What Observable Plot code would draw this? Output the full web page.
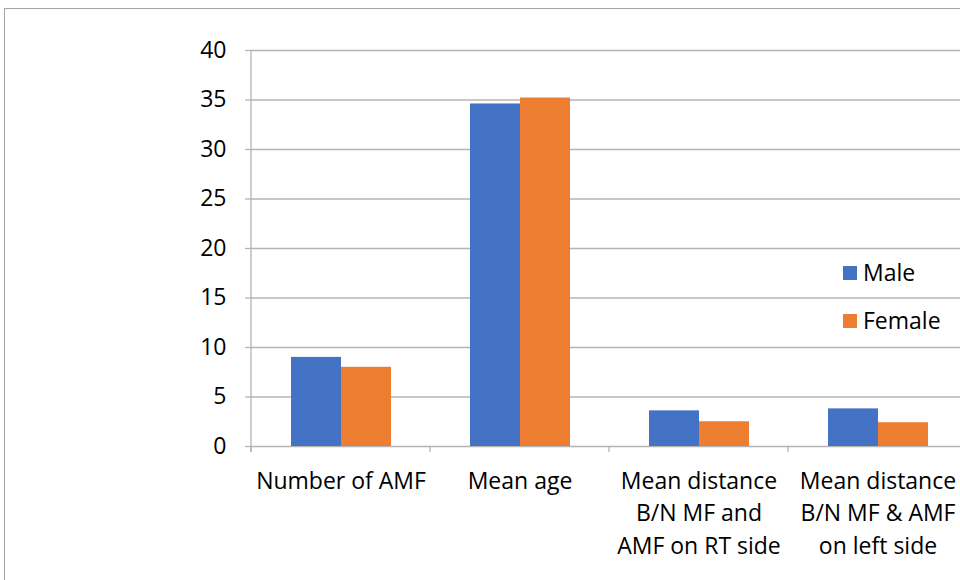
<!DOCTYPE html>
<html>
<head>
<meta charset="utf-8">
<script src="https://cdn.jsdelivr.net/npm/d3@7"></script>
<script src="https://cdn.jsdelivr.net/npm/@observablehq/plot@0.6"></script>
<style>
  html, body { margin: 0; padding: 0; background: #fff; overflow: hidden; width: 960px; height: 580px; }
  #wrap { position: relative; width: 960px; height: 580px; overflow: hidden; }
  #frame { position: absolute; left: 4px; top: 8px; width: 1000px; height: 600px; border: 1px solid #a6a6a6; box-sizing: border-box; pointer-events: none; }
  #chart { position: absolute; left: 0; top: 0; width: 968px; }
  .legend { position: absolute; left: 843px; font-family: "Open Sans", sans-serif; font-size: 23px; color: #000; display: flex; align-items: center; line-height: 1; }
  .legend .sw { width: 14px; height: 14px; margin-right: 6px; }
</style>
</head>
<body>
<div id="wrap">
  <div id="chart"></div>
  <div id="frame"></div>
</div>
<script>
const categories = ["Number of AMF", "Mean age", "Mean distance\nB/N MF and\nAMF on RT side", "Mean distance\nB/N MF & AMF\non left side"];
const series = ["Male", "Female"];
const maleValues = [9, 34.6, 3.6, 3.8];
const femaleValues = [8, 35.2, 2.5, 2.4];
const yTicks = [0, 5, 10, 15, 20, 25, 30, 35, 40];
const colors = ["#4472C4", "#ED7D31"];

const data = [];
categories.forEach((c, i) => {
  data.push({category: c, sex: "Male", value: maleValues[i]});
  data.push({category: c, sex: "Female", value: femaleValues[i]});
});

const gridColor = "#b4b4b4";

const plot = Plot.plot({
  width: 968,
  height: 580,
  marginLeft: 249,
  marginRight: 0,
  marginTop: 50,
  marginBottom: 134,
  style: {fontFamily: "'Open Sans', sans-serif", fontSize: "23px", color: "#000", background: "transparent", maxWidth: "none"},
  fx: {domain: categories, padding: 0, label: null},
  x: {domain: series, paddingInner: 0, paddingOuter: 0.76, axis: null},
  y: {domain: [0, 40], label: null},
  color: {domain: series, range: colors},
  marks: [
    Plot.gridY(yTicks, {stroke: gridColor, strokeOpacity: 1, strokeWidth: 1.3}),
    Plot.barY(data, {fx: "category", x: "sex", y: "value", fill: "sex"}),
    Plot.axisY(yTicks, {tickSize: 6, tickPadding: 19, stroke: gridColor, strokeWidth: 1.3, label: null, fontSize: 23}),
    Plot.axisFx({anchor: "bottom", tickSize: 0, tickPadding: 19, lineHeight: 1.42, label: null, fontSize: 23})
  ]
});

document.getElementById("chart").appendChild(plot);

// Category boundary ticks and y-axis line from the plot's own scales
const fx = plot.scale("fx");
const y = plot.scale("y");
const svg = d3.select(plot);
const y0 = y.apply(0), yTop = y.apply(40);
const g = svg.append("g").attr("stroke", gridColor).attr("stroke-width", 1.3);
categories.forEach(c => {
  const xx = fx.apply(c);
  g.append("line").attr("x1", xx).attr("x2", xx).attr("y1", y0).attr("y2", y0 + 6);
});
const xAxis = fx.apply(categories[0]);
g.append("line").attr("x1", xAxis).attr("x2", xAxis).attr("y1", yTop).attr("y2", y0 + 6);

// Legend
const wrap = document.getElementById("wrap");
const legendTops = [261, 309];
series.forEach((s, i) => {
  const d = document.createElement("div");
  d.className = "legend";
  d.style.top = legendTops[i] + "px";
  d.innerHTML = `<span class="sw" style="background:${colors[i]}"></span><span>${s}</span>`;
  wrap.appendChild(d);
});
</script>
</body>
</html>
